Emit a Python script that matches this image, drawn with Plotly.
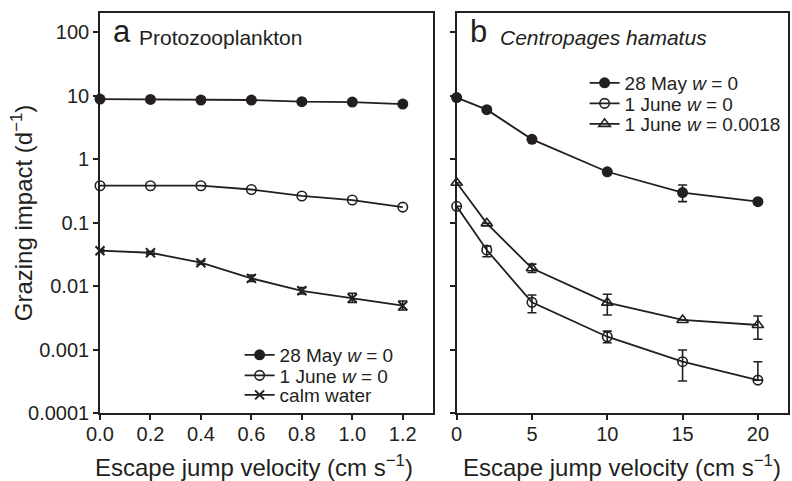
import plotly.graph_objects as go

FONT = "Liberation Sans, Arial, Helvetica, sans-serif"
INK = "#231f20"

# ---------------- data ----------------
# Panel a: Protozooplankton
a_x = [0.0, 0.2, 0.4, 0.6, 0.8, 1.0, 1.2]
a_may28 = [8.8, 8.7, 8.5, 8.5, 8.0, 7.9, 7.35]
a_june1 = [0.38, 0.38, 0.38, 0.331, 0.262, 0.226, 0.175]
a_calm = [0.036, 0.0334, 0.0233, 0.0132, 0.0084, 0.0064, 0.0049]
a_calm_hi = [0.0375, 0.0350, 0.0245, 0.0149, 0.0095, 0.0077, 0.0058]
a_calm_lo = [0.0345, 0.0318, 0.0221, 0.0118, 0.0075, 0.0055, 0.0042]

# Panel b: Centropages hamatus
b_x = [0, 2, 5, 10, 15, 20]
b_may28 = [9.3, 6.0, 2.04, 0.63, 0.296, 0.213]
b_may28_hi = [9.3, 6.0, 2.04, 0.63, 0.390, 0.213]
b_may28_lo = [9.3, 6.0, 2.04, 0.63, 0.213, 0.213]
b_june1 = [0.18, 0.0369, 0.00553, 0.00159, 0.000643, 0.00033]
b_june1_hi = [0.18, 0.0426, 0.00722, 0.00195, 0.000983, 0.000643]
b_june1_lo = [0.18, 0.0289, 0.00380, 0.00128, 0.000319, 0.00033]
b_june1w = [0.424, 0.0971, 0.0190, 0.00547, 0.00292, 0.00243]
b_june1w_hi = [0.424, 0.0971, 0.0221, 0.00740, 0.00292, 0.00337]
b_june1w_lo = [0.424, 0.0971, 0.0163, 0.00349, 0.00292, 0.00145]

y_tickvals = [100, 10, 1, 0.1, 0.01, 0.001, 0.0001]
y_ticktext = ["100", "10", "1", "0.1", "0.01", "0.001", "0.0001"]
a_tickvals = [0.0, 0.2, 0.4, 0.6, 0.8, 1.0, 1.2]
a_ticktext = ["0.0", "0.2", "0.4", "0.6", "0.8", "1.0", "1.2"]
b_tickvals = [0, 5, 10, 15, 20]

names_a = ["28 May <i>w</i> = 0", "1 June <i>w</i> = 0", "calm water"]
names_b = ["28 May <i>w</i> = 0", "1 June <i>w</i> = 0", "1 June <i>w</i> = 0.0018"]


def err(y, hi, lo):
    return dict(type="data", symmetric=False,
                array=[h - v for h, v in zip(hi, y)],
                arrayminus=[v - l for v, l in zip(y, lo)],
                color=INK, thickness=1.6, width=4.5)


LINE = dict(color=INK, width=1.8)
fig = go.Figure()

# panel a
fig.add_trace(go.Scatter(x=a_x, y=a_may28, mode="lines+markers", name=names_a[0],
                         line=LINE, marker=dict(symbol="circle", size=11, color=INK),
                         xaxis="x", yaxis="y", legend="legend", cliponaxis=False))
fig.add_trace(go.Scatter(x=a_x, y=a_june1, mode="lines+markers", name=names_a[1],
                         line=LINE, marker=dict(symbol="circle-open", size=9.5, color=INK,
                                                line=dict(width=1.6, color=INK)),
                         xaxis="x", yaxis="y", legend="legend2", cliponaxis=False))
fig.add_trace(go.Scatter(x=a_x, y=a_calm, mode="lines+markers", name=names_a[2],
                         line=LINE, marker=dict(symbol="x-thin-open", size=9, color=INK,
                                                line=dict(width=2, color=INK)),
                         error_y=err(a_calm, a_calm_hi, a_calm_lo),
                         xaxis="x", yaxis="y", legend="legend3", cliponaxis=False))

# panel b
fig.add_trace(go.Scatter(x=b_x, y=b_may28, mode="lines+markers", name=names_b[0],
                         line=LINE, marker=dict(symbol="circle", size=11, color=INK),
                         error_y=err(b_may28, b_may28_hi, b_may28_lo),
                         xaxis="x2", yaxis="y2", legend="legend4", cliponaxis=False))
fig.add_trace(go.Scatter(x=b_x, y=b_june1, mode="lines+markers", name=names_b[1],
                         line=LINE, marker=dict(symbol="circle-open", size=9.5, color=INK,
                                                line=dict(width=1.6, color=INK)),
                         error_y=err(b_june1, b_june1_hi, b_june1_lo),
                         xaxis="x2", yaxis="y2", legend="legend5", cliponaxis=False))
fig.add_trace(go.Scatter(x=b_x, y=b_june1w, mode="lines+markers", name=names_b[2],
                         line=LINE, marker=dict(symbol="triangle-up-open", size=10, color=INK,
                                                line=dict(width=1.6, color=INK)),
                         error_y=err(b_june1w, b_june1w_hi, b_june1w_lo),
                         xaxis="x2", yaxis="y2", legend="legend6", cliponaxis=False))

L, R, T, B = 100, 2, 13, 68
W, H = 792, 481
PW, PH = W - L - R, H - T - B


def px(xp):
    return (xp - L) / PW


def py(yp):
    return (H - B - yp) / PH


axis_common = dict(showline=True, linecolor=INK, linewidth=1.6, mirror=True,
                   ticks="outside", ticklen=5, tickwidth=1.6, tickcolor=INK,
                   showgrid=False, zeroline=False,
                   tickfont=dict(family=FONT, size=20, color=INK))


def leg(xp, yp):
    return dict(x=px(xp), y=py(yp), xanchor="left", yanchor="middle",
                bgcolor="rgba(0,0,0,0)", borderwidth=0,
                font=dict(family=FONT, size=19, color=INK), itemwidth=30)


fig.update_layout(
    width=W, height=H,
    margin=dict(l=L, r=R, t=T, b=B),
    paper_bgcolor="white", plot_bgcolor="white",
    font=dict(family=FONT, color=INK),
    xaxis=dict(domain=[0, px(434)], range=[0, 1.32], tickvals=a_tickvals,
               ticktext=a_ticktext, anchor="y", ticklabelstandoff=-3, **axis_common),
    yaxis=dict(type="log", range=[-4, 2.3], tickvals=y_tickvals, ticktext=y_ticktext,
               anchor="x", **axis_common),
    xaxis2=dict(domain=[px(457.7), 1], range=[0, 22], tickvals=b_tickvals,
                anchor="y2", ticklabelstandoff=-3, **axis_common),
    yaxis2=dict(type="log", range=[-4, 2.3], tickvals=y_tickvals, showticklabels=False,
                anchor="x2", **axis_common),
    legend=leg(240, 355),
    legend2=leg(240, 375.5),
    legend3=leg(240, 395),
    legend4=leg(586, 83),
    legend5=leg(586, 103.5),
    legend6=leg(586, 124),
    showlegend=True,
)

ann = [
    dict(text="a", x=px(111), y=py(51), xanchor="left", yanchor="bottom", font=dict(size=31)),
    dict(text="Protozooplankton", x=px(137), y=py(51), xanchor="left", yanchor="bottom",
         font=dict(size=21)),
    dict(text="b", x=px(469), y=py(51), xanchor="left", yanchor="bottom", font=dict(size=31)),
    dict(text="<i>Centropages hamatus</i>", x=px(499), y=py(51), xanchor="left",
         yanchor="bottom", font=dict(size=21)),
    dict(text="Escape jump velocity (cm s<sup>\u22121</sup>)", x=px(254), y=py(466),
         xanchor="center", yanchor="middle", font=dict(size=24)),
    dict(text="Escape jump velocity (cm s<sup>\u22121</sup>)", x=px(624), y=py(466),
         xanchor="center", yanchor="middle", font=dict(size=24)),
    dict(text="Grazing impact (d<sup>\u22121</sup>)", x=px(22), y=py(213), textangle=-90,
         xanchor="center", yanchor="middle", font=dict(size=24)),
]
for a in ann:
    a.update(xref="paper", yref="paper", showarrow=False)
    a["font"] = dict(family=FONT, color=INK, **a["font"])
fig.update_layout(annotations=ann)

fig.write_html("out.html")
